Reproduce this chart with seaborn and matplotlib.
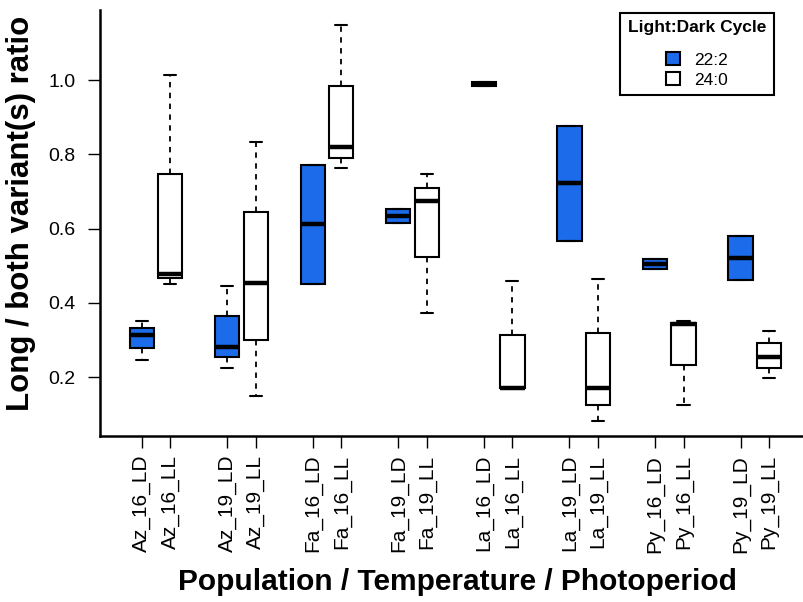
import matplotlib
matplotlib.use("Agg")
import matplotlib.pyplot as plt
import numpy as np
import pandas as pd
import seaborn as sns

# population / temperature groups and light:dark cycles
groups = ["Az_16", "Az_19", "Fa_16", "Fa_19", "La_16", "La_19", "Py_16", "Py_19"]
cycles = ["22:2", "24:0"]
cycle_tags = {"22:2": "LD", "24:0": "LL"}

# five-number summaries (low whisker, q1, median, q3, high whisker)
ld_low = [0.246, 0.224, 0.451, 0.614, 0.985, 0.567, 0.490, 0.462]
ld_q1 = [0.279, 0.253, 0.451, 0.614, 0.985, 0.567, 0.490, 0.462]
ld_med = [0.313, 0.282, 0.612, 0.634, 0.991, 0.722, 0.504, 0.521]
ld_q3 = [0.331, 0.364, 0.772, 0.653, 0.996, 0.876, 0.519, 0.580]
ld_high = [0.351, 0.445, 0.772, 0.653, 0.996, 0.876, 0.519, 0.580]

ll_low = [0.452, 0.150, 0.764, 0.373, 0.170, 0.081, 0.125, 0.197]
ll_q1 = [0.468, 0.300, 0.791, 0.523, 0.170, 0.125, 0.232, 0.225]
ll_med = [0.479, 0.453, 0.819, 0.674, 0.170, 0.170, 0.343, 0.255]
ll_q3 = [0.748, 0.644, 0.983, 0.710, 0.314, 0.318, 0.346, 0.291]
ll_high = [1.014, 0.833, 1.148, 0.746, 0.459, 0.465, 0.351, 0.324]

yticks = [0.2, 0.4, 0.6, 0.8, 1.0]

# long table for seaborn
rows = []
for cyc, cols in zip(cycles, [(ld_low, ld_q1, ld_med, ld_q3, ld_high),
                              (ll_low, ll_q1, ll_med, ll_q3, ll_high)]):
    for i, g in enumerate(groups):
        for col in cols:
            rows.append({"group": g, "cycle": cyc, "ratio": col[i]})
df = pd.DataFrame(rows)

sns.set_theme(style="ticks")
plt.rcParams["font.family"] = ["Liberation Sans", "DejaVu Sans"]
for key in ["text.color", "axes.labelcolor", "xtick.color", "ytick.color", "axes.edgecolor"]:
    plt.rcParams[key] = "black"

fig = plt.figure(figsize=(8.04, 6.02), dpi=100)
ax = fig.add_axes([0.1244, 0.2757, 0.874, 0.7076])

box_width = 2 / 3
sns.boxplot(
    data=df,
    x="group",
    y="ratio",
    hue="cycle",
    order=groups,
    hue_order=cycles,
    palette={"22:2": "#1B6BEA", "24:0": "white"},
    saturation=1,
    width=box_width,
    gap=0.15,
    whis=(0, 100),
    linecolor="black",
    linewidth=1.5,
    medianprops=dict(linewidth=3.2, color="black"),
    whiskerprops=dict(linestyle=(0, (3, 3)), linewidth=1.3),
    capprops=dict(linewidth=1.5),
    showfliers=False,
    ax=ax,
)

# ticks: one per box
off = box_width / 4
tick_pos, tick_lab = [], []
for i, g in enumerate(groups):
    for j, cyc in enumerate(cycles):
        tick_pos.append(i + (-off if j == 0 else off))
        tick_lab.append(f"{g}_{cycle_tags[cyc]}")
ax.set_xticks(tick_pos)
ax.set_xticklabels(tick_lab, rotation=90, fontsize=15)
ax.set_xlim(-0.653, 7.56)

ax.set_ylim(0.041, 1.189)
ax.set_yticks(yticks)
ax.set_yticklabels([f"{v:.1f}" for v in yticks], fontsize=14)

ax.tick_params(axis="both", direction="out", length=8.5, width=1.0, color="black")
ax.tick_params(axis="y", pad=9)
ax.tick_params(axis="x", pad=5)

ax.set_xlabel("Population / Temperature / Photoperiod", fontsize=21.5,
              fontweight="bold")
ax.set_ylabel("Long / both variant(s) ratio", fontsize=22.5,
              fontweight="bold")
ax.xaxis.set_label_coords(0.509, -0.31)
ax.yaxis.set_label_coords(-0.091, 0.523)

for side in ["top", "right"]:
    ax.spines[side].set_visible(False)
for side in ["left", "bottom"]:
    ax.spines[side].set_linewidth(1.8)
    ax.spines[side].set_color("black")

# legend
handles, labels = ax.get_legend_handles_labels()
leg = ax.legend(
    handles, labels,
    title="Light:Dark Cycle\n",
    loc="upper right",
    bbox_to_anchor=(0.959, 0.994),
    borderaxespad=0,
    fontsize=12.5,
    title_fontproperties={"weight": "bold", "size": 12.5},
    frameon=True,
    fancybox=False,
    edgecolor="black",
    handlelength=0.8,
    handleheight=0.75,
    handletextpad=0.8,
    labelspacing=0.25,
    borderpad=0.45,
)
leg.get_title().set_linespacing(0.8)
leg.get_frame().set_linewidth(1.5)
leg.get_frame().set_alpha(1)

fig.savefig("out.png", dpi=100)
